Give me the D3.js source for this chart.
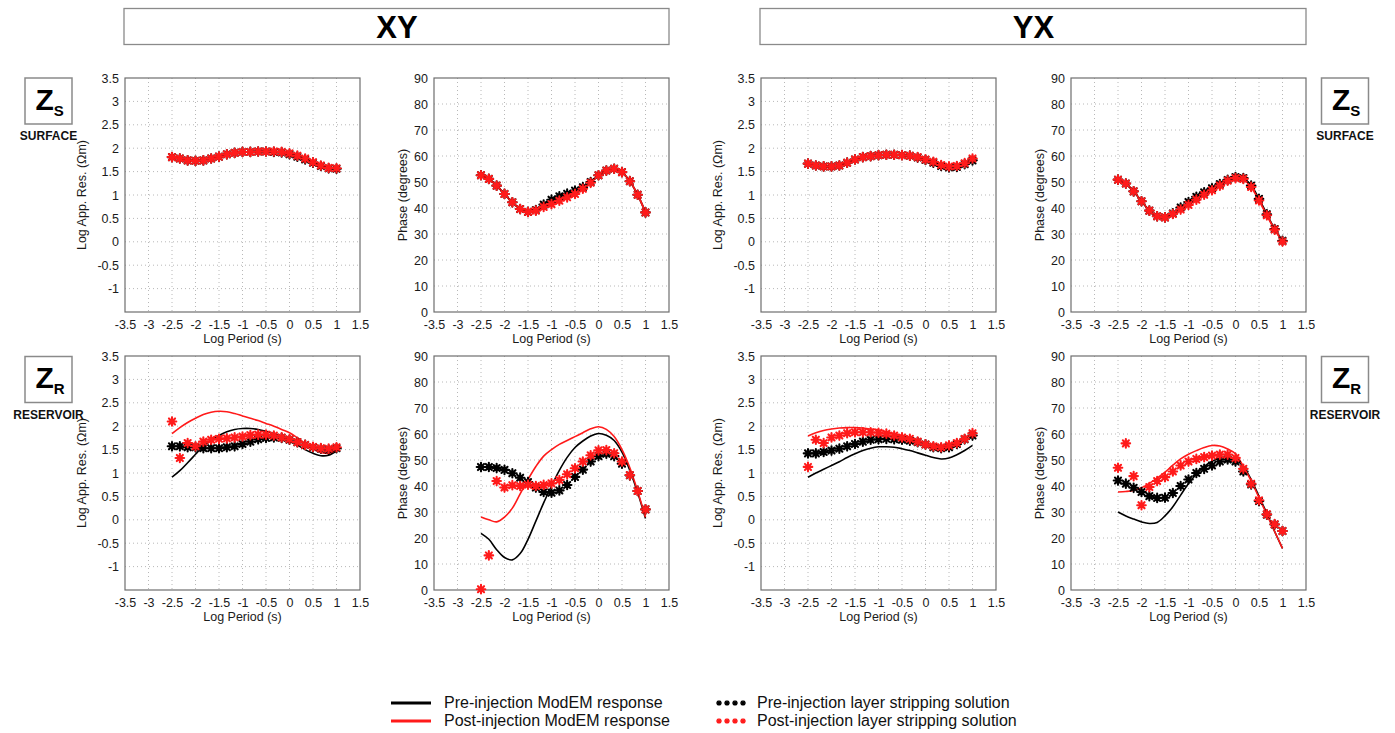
<!DOCTYPE html>
<html>
<head>
<meta charset="utf-8">
<script src="https://cdn.jsdelivr.net/npm/d3@7"></script>
<style>
  html, body { margin: 0; padding: 0; background: #fff; }
  svg { display: block; font-family: "Liberation Sans", Arial, Helvetica, sans-serif; }
</style>
</head>
<body>
<svg id="chart" width="1395" height="733"></svg>
<script>
// Log10 of period (s) at which responses are evaluated
const logPeriod = [-2.5, -2.333, -2.167, -2, -1.833, -1.667, -1.5, -1.333, -1.167, -1, -0.833, -0.667,
                   -0.5, -0.333, -0.167, 0, 0.167, 0.333, 0.5, 0.667, 0.833, 1];

// Tick labels
const xTicks = [-3.5, -3, -2.5, -2, -1.5, -1, -0.5, 0, 0.5, 1, 1.5];
const rhoTicks = [-1, -0.5, 0, 0.5, 1, 1.5, 2, 2.5, 3, 3.5];
const phaseTicks = [0, 10, 20, 30, 40, 50, 60, 70, 80, 90];

// ---- Surface impedance Zs ----
// XY apparent resistivity (log Ωm)
const surfXYRhoPre  = [1.81,1.78,1.74,1.73,1.74,1.78,1.82,1.87,1.90,1.92,1.92,1.93,1.93,1.92,1.91,1.87,1.82,1.76,1.69,1.62,1.57,1.56];
const surfXYRhoPost = [1.81,1.78,1.74,1.73,1.74,1.78,1.82,1.87,1.90,1.92,1.92,1.93,1.93,1.93,1.92,1.89,1.84,1.78,1.70,1.63,1.58,1.57];
// XY phase (degrees)
const surfXYPhPre   = [52.6,51.2,48.6,45.4,42.2,39.6,38.5,39.2,41.3,43.2,44.5,45.5,46.7,48.0,50.0,52.6,54.4,55.1,53.8,50.3,45.1,38.3];
const surfXYPhPost  = [52.6,51.2,48.6,45.4,42.2,39.6,38.5,39.0,40.4,41.5,42.8,44.1,45.4,47.4,49.7,52.6,54.4,55.1,53.8,50.3,45.1,38.3];
// YX apparent resistivity (log Ωm)
const surfYXRhoPre  = [1.67,1.63,1.61,1.61,1.63,1.69,1.76,1.81,1.83,1.85,1.86,1.86,1.85,1.84,1.80,1.75,1.69,1.62,1.59,1.60,1.66,1.74];
const surfYXRhoPost = [1.67,1.63,1.61,1.61,1.63,1.69,1.76,1.81,1.83,1.85,1.86,1.86,1.85,1.84,1.81,1.76,1.71,1.64,1.61,1.62,1.68,1.78];
// YX phase (degrees)
const surfYXPhPre   = [50.9,49.4,46.4,42.6,39.0,36.8,36.4,37.9,40.2,42.3,44.3,46.0,47.6,49.2,50.8,51.9,51.5,48.6,43.5,37.6,31.9,27.4];
const surfYXPhPost  = [50.9,49.4,46.4,42.6,39.0,36.8,36.4,37.7,39.4,41.2,43.2,45.1,46.8,48.6,50.5,51.5,51.2,48.1,42.9,37.2,31.7,27.1];

// ---- Reservoir impedance Zr ----
// XY apparent resistivity
const resXYRhoModemPre  = [0.91,1.05,1.22,1.40,1.58,1.70,1.80,1.88,1.93,1.95,1.95,1.93,1.89,1.84,1.78,1.70,1.60,1.50,1.42,1.37,1.38,1.47];
const resXYRhoModemPost = [1.84,1.97,2.08,2.17,2.25,2.30,2.32,2.31,2.27,2.22,2.17,2.12,2.06,2.00,1.93,1.86,1.75,1.63,1.52,1.44,1.42,1.49];
const resXYRhoStripPre  = [1.57,1.57,1.55,1.55,1.53,1.53,1.53,1.55,1.57,1.62,1.67,1.72,1.75,1.76,1.75,1.71,1.66,1.60,1.55,1.52,1.50,1.53];
const resXYRhoStripPost = [2.10,1.32,1.64,1.57,1.67,1.71,1.73,1.74,1.76,1.78,1.81,1.82,1.82,1.80,1.76,1.72,1.66,1.60,1.56,1.53,1.52,1.55];
// XY phase
const resXYPhModemPre   = [21.8,19.5,15.5,12.5,11.6,14.0,19.5,26.5,33.5,40.0,46.0,51.0,54.8,57.3,59.2,60.2,59.5,57.5,53.0,46.0,37.5,27.5];
const resXYPhModemPost  = [28.1,27.0,26.2,28.0,31.5,37.0,42.5,47.5,51.5,54.0,56.0,57.5,59.0,60.5,62.0,62.8,61.8,59.0,54.0,47.0,38.0,28.0];
const resXYPhStripPre   = [47.3,47.3,46.9,46.2,44.9,43.2,41.5,39.4,37.7,37.4,38.3,40.4,43.5,46.3,49.4,51.5,52.4,51.5,48.6,44.1,38.1,31.0];
const resXYPhStripPost  = [0.3,13.3,41.9,39.4,40.3,40.0,40.5,40.0,40.4,41.0,42.3,44.5,46.8,49.4,51.8,53.7,53.8,52.6,49.4,44.2,38.1,31.0];
// YX apparent resistivity
const resYXRhoModemPre  = [0.91,1.00,1.08,1.16,1.24,1.33,1.41,1.48,1.53,1.56,1.56,1.55,1.52,1.48,1.43,1.38,1.33,1.30,1.32,1.39,1.48,1.59];
const resYXRhoModemPost = [1.79,1.86,1.91,1.94,1.96,1.97,1.97,1.96,1.94,1.92,1.88,1.84,1.80,1.75,1.69,1.63,1.58,1.55,1.57,1.63,1.72,1.84];
const resYXRhoStripPre  = [1.42,1.42,1.45,1.48,1.52,1.57,1.62,1.67,1.71,1.72,1.73,1.72,1.71,1.69,1.66,1.61,1.55,1.53,1.55,1.62,1.72,1.80];
const resYXRhoStripPost = [1.13,1.71,1.64,1.76,1.80,1.85,1.87,1.87,1.87,1.86,1.84,1.80,1.76,1.73,1.67,1.61,1.57,1.55,1.59,1.64,1.73,1.85];
// YX phase
const resYXPhModemPre   = [30.0,28.5,27.3,26.2,25.6,26.0,28.5,32.0,36.5,41.0,44.5,47.5,49.5,50.8,51.0,50.3,47.5,42.5,36.0,29.5,22.5,16.0];
const resYXPhModemPost  = [37.7,37.9,38.3,39.3,41.0,43.0,45.3,48.0,50.4,52.2,53.6,54.8,55.6,55.4,54.2,52.4,47.5,42.0,35.5,29.0,22.5,16.0];
const resYXPhStripPre   = [42.1,40.9,39.3,37.7,36.1,35.4,35.5,37.3,40.0,42.5,45.0,46.6,47.9,49.4,50.2,49.4,45.6,40.6,34.2,29.0,25.2,22.7];
const resYXPhStripPost  = [47.0,56.4,43.8,32.6,39.6,41.9,43.4,45.6,47.9,49.4,50.4,51.1,51.7,52.1,52.1,50.8,46.6,40.9,34.5,29.1,25.3,22.7];

// Legend entries
const legendLines = ["Pre-injection ModEM response", "Post-injection ModEM response"];
const legendStars = ["Pre-injection layer stripping solution", "Post-injection layer stripping solution"];

const RED = "#ff1a1a";
const BLACK = "#000000";

const svg = d3.select("#chart");

// Layout of the 2 x 4 grid of axes
const colX = [125, 434, 761, 1071];
const rowY = [78, 356];
const plotW = 235, plotH = 234;

const fmt = d => String(d);

// Eight-armed asterisk marker path
function starPath(r) {
  const a = r * 0.7071;
  return `M${-r},0L${r},0M0,${-r}L0,${r}M${-a},${-a}L${a},${a}M${-a},${a}L${a},${-a}`;
}

function drawPanel(col, row, kind, lines, stars) {
  const x0 = colX[col], y0 = rowY[row];
  const isRho = kind === "rho";
  const x = d3.scaleLinear().domain([-3.5, 1.5]).range([0, plotW]);
  const y = isRho
    ? d3.scaleLinear().domain([-1.5, 3.5]).range([plotH, 0])
    : d3.scaleLinear().domain([0, 90]).range([plotH, 0]);
  const yTicks = isRho ? rhoTicks : phaseTicks;

  const g = svg.append("g").attr("transform", `translate(${x0},${y0})`);

  // dotted grid
  const gx = xTicks.filter(d => d > -3.5 && d < 1.5);
  const gy = y.domain();
  const yGrid = yTicks.filter(d => d > gy[0] && d < gy[1]);
  g.append("g").selectAll("line").data(gx).join("line")
    .attr("x1", d => x(d)).attr("x2", d => x(d)).attr("y1", 0).attr("y2", plotH)
    .attr("stroke", "#b8b8b8").attr("stroke-width", 1).attr("stroke-dasharray", "1,3");
  g.append("g").selectAll("line").data(yGrid).join("line")
    .attr("y1", d => y(d)).attr("y2", d => y(d)).attr("x1", 0).attr("x2", plotW)
    .attr("stroke", "#b8b8b8").attr("stroke-width", 1).attr("stroke-dasharray", "1,3");

  // axes
  const ax = g.append("g").attr("transform", `translate(0,${plotH})`)
    .call(d3.axisBottom(x).tickValues(xTicks).tickFormat(fmt).tickSize(0).tickPadding(8));
  const ay = g.append("g")
    .call(d3.axisLeft(y).tickValues(yTicks).tickFormat(fmt).tickSize(0).tickPadding(6));
  [ax, ay].forEach(a => {
    a.select(".domain").remove();
    a.selectAll("text").attr("font-size", 12.5).attr("fill", "#1a1a1a")
      .attr("font-family", "'Liberation Sans', Arial, sans-serif");
  });

  // frame
  g.append("rect").attr("width", plotW).attr("height", plotH)
    .attr("fill", "none").attr("stroke", "#6e6e6e").attr("stroke-width", 1.2);

  // axis titles
  g.append("text").attr("x", plotW / 2).attr("y", plotH + 31)
    .attr("text-anchor", "middle").attr("font-size", 12.5).attr("fill", "#1a1a1a")
    .text("Log Period (s)");
  g.append("text")
    .attr("transform", `translate(${isRho ? -39 : -27},${plotH / 2}) rotate(-90)`)
    .attr("text-anchor", "middle").attr("font-size", 12.5).attr("fill", "#1a1a1a")
    .text(isRho ? "Log App. Res. (\u03A9m)" : "Phase (degrees)");

  // response curves
  const line = d3.line().x((d, i) => x(logPeriod[i])).y(d => y(d))
    .curve(d3.curveCatmullRom.alpha(0.5));
  lines.forEach(s => {
    g.append("path").datum(s.values).attr("d", line)
      .attr("fill", "none").attr("stroke", s.color).attr("stroke-width", s.width || 1.6);
  });

  // layer stripping solutions
  stars.forEach(s => {
    g.append("g").selectAll("path").data(s.values).join("path")
      .attr("transform", (d, i) => `translate(${x(logPeriod[i])},${y(d)})`)
      .attr("d", starPath(4.3))
      .attr("stroke", s.color).attr("stroke-width", 2.1).attr("stroke-linecap", "round")
      .attr("fill", "none");
  });
}

// Surface row
drawPanel(0, 0, "rho",
  [{ values: surfXYRhoPre, color: BLACK, width: 1.8 }, { values: surfXYRhoPost, color: RED, width: 1.8 }],
  [{ values: surfXYRhoPre, color: BLACK }, { values: surfXYRhoPost, color: RED }]);
drawPanel(1, 0, "phase",
  [{ values: surfXYPhPre, color: BLACK, width: 1.8 }, { values: surfXYPhPost, color: RED, width: 1.8 }],
  [{ values: surfXYPhPre, color: BLACK }, { values: surfXYPhPost, color: RED }]);
drawPanel(2, 0, "rho",
  [{ values: surfYXRhoPre, color: BLACK, width: 1.8 }, { values: surfYXRhoPost, color: RED, width: 1.8 }],
  [{ values: surfYXRhoPre, color: BLACK }, { values: surfYXRhoPost, color: RED }]);
drawPanel(3, 0, "phase",
  [{ values: surfYXPhPre, color: BLACK, width: 1.8 }, { values: surfYXPhPost, color: RED, width: 1.8 }],
  [{ values: surfYXPhPre, color: BLACK }, { values: surfYXPhPost, color: RED }]);

// Reservoir row
drawPanel(0, 1, "rho",
  [{ values: resXYRhoModemPre, color: BLACK }, { values: resXYRhoModemPost, color: RED }],
  [{ values: resXYRhoStripPre, color: BLACK }, { values: resXYRhoStripPost, color: RED }]);
drawPanel(1, 1, "phase",
  [{ values: resXYPhModemPre, color: BLACK }, { values: resXYPhModemPost, color: RED }],
  [{ values: resXYPhStripPre, color: BLACK }, { values: resXYPhStripPost, color: RED }]);
drawPanel(2, 1, "rho",
  [{ values: resYXRhoModemPre, color: BLACK }, { values: resYXRhoModemPost, color: RED }],
  [{ values: resYXRhoStripPre, color: BLACK }, { values: resYXRhoStripPost, color: RED }]);
drawPanel(3, 1, "phase",
  [{ values: resYXPhModemPre, color: BLACK }, { values: resYXPhModemPost, color: RED }],
  [{ values: resYXPhStripPre, color: BLACK }, { values: resYXPhStripPost, color: RED }]);

// Component header boxes
[["XY", colX[0], colX[1] + plotW], ["YX", colX[2], colX[3] + plotW]].forEach(([label, a, b]) => {
  svg.append("rect").attr("x", a - 1).attr("y", 8.5).attr("width", b - a + 1).attr("height", 36)
    .attr("fill", "#fff").attr("stroke", "#8a8a8a").attr("stroke-width", 1.3);
  svg.append("text").attr("x", (a + b) / 2).attr("y", 38).attr("text-anchor", "middle")
    .attr("font-size", 31).attr("font-weight", "bold").attr("fill", "#000").text(label);
});

// Impedance badges (Zs surface / Zr reservoir)
function badge(cx, top, sub, caption) {
  svg.append("rect").attr("x", cx - 23.5).attr("y", top).attr("width", 47).attr("height", 46)
    .attr("fill", "#fff").attr("stroke", "#8a8a8a").attr("stroke-width", 1.5);
  const t = svg.append("text").attr("x", cx - 13).attr("y", top + 31.5)
    .attr("font-weight", "bold").attr("fill", "#000");
  t.append("tspan").attr("font-size", 30).text("Z");
  t.append("tspan").attr("font-size", 15).attr("dy", 6).text(sub);
  svg.append("text").attr("x", cx).attr("y", top + 62).attr("text-anchor", "middle")
    .attr("font-size", 12).attr("font-weight", "bold").attr("fill", "#111").text(caption);
}
badge(48.5, 78, "S", "SURFACE");
badge(48.5, 356.5, "R", "RESERVOIR");
badge(1345, 78, "S", "SURFACE");
badge(1345, 356.5, "R", "RESERVOIR");

// Legend
const legY = [703, 721];
legendLines.forEach((label, i) => {
  svg.append("line").attr("x1", 391).attr("x2", 431).attr("y1", legY[i]).attr("y2", legY[i])
    .attr("stroke", i === 0 ? BLACK : RED).attr("stroke-width", 3);
  svg.append("text").attr("x", 444).attr("y", legY[i] + 5).attr("font-size", 16)
    .attr("fill", "#111").text(label);
});
legendStars.forEach((label, i) => {
  const gs = svg.append("g");
  [0, 1, 2, 3].forEach(k => {
    gs.append("path").attr("transform", `translate(${719 + k * 8},${legY[i]})`)
      .attr("d", starPath(2.8)).attr("stroke", i === 0 ? BLACK : RED)
      .attr("stroke-width", 1.3).attr("fill", "none");
  });
  svg.append("text").attr("x", 757).attr("y", legY[i] + 5).attr("font-size", 16)
    .attr("fill", "#111").text(label);
});
</script>
</body>
</html>
